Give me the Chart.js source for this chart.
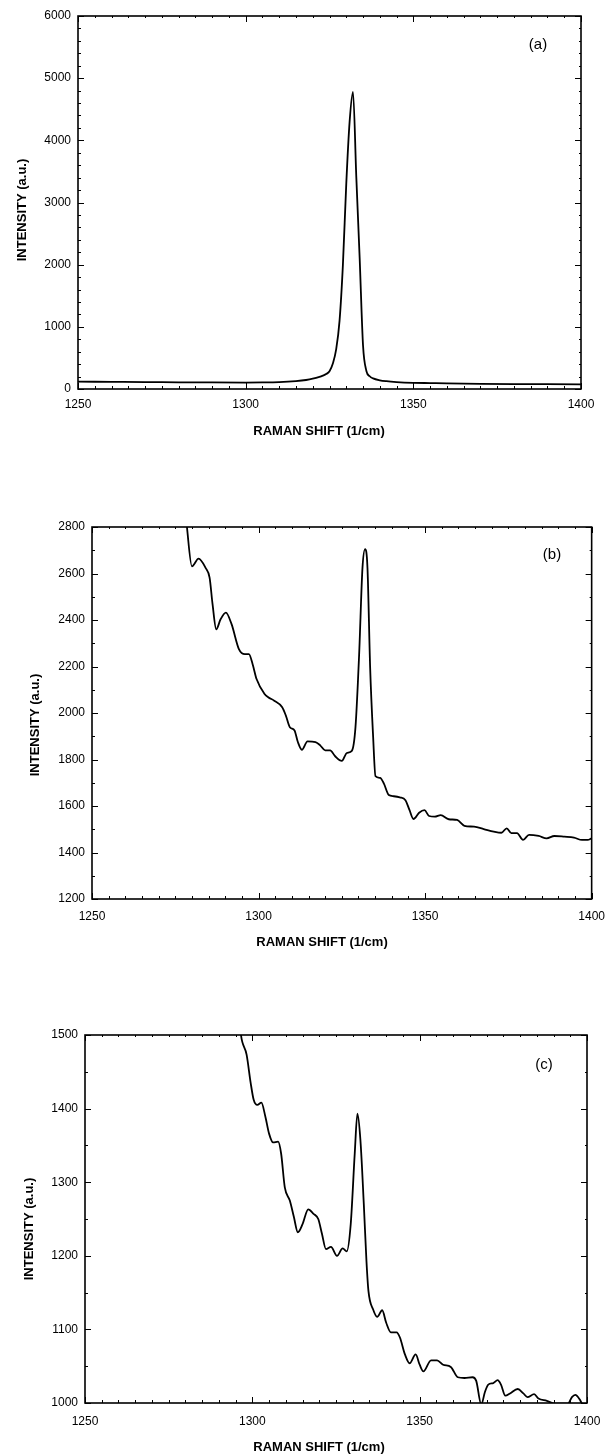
<!DOCTYPE html>
<html><head><meta charset="utf-8">
<script src="https://cdn.jsdelivr.net/npm/chart.js@4"></script>
<style>
html,body{margin:0;padding:0;background:#fff;}
body{width:615px;height:1455px;position:relative;overflow:hidden;}
canvas{position:absolute;left:0;}
</style></head><body>
<canvas id="ca" width="615" height="470" style="top:0px"></canvas>
<canvas id="cb" width="615" height="490" style="top:480px"></canvas>
<canvas id="cc" width="615" height="480" style="top:975px"></canvas>
<script>
// ---- data ----
const xTitle = 'RAMAN SHIFT (1/cm)';
const yTitle = 'INTENSITY (a.u.)';
const panelLabels = ['(a)', '(b)', '(c)'];
const xTicks = [1250, 1300, 1350, 1400];

const yTicksA = [0, 1000, 2000, 3000, 4000, 5000, 6000];
const shiftA = [1250,1260,1270,1280,1290,1300,1305,1310,1315,1318,1320,1322,1323,1324,1325,1326,1327,1328,1329,1330,1331,1332,1333,1334,1335,1336,1337,1338,1340,1342,1345,1350,1355,1360,1370,1380,1390,1400];
const intensityA = [118,115,112,108,105,104,106,112,128,145,165,195,215,240,285,410,640,1100,2000,3300,4300,4780,3400,2100,700,290,205,170,140,125,112,100,95,90,84,80,78,75];

const yTicksB = [1200, 1400, 1600, 1800, 2000, 2200, 2400, 2600, 2800];
const shiftB = [1277.5,1278.5,1280.0,1282.0,1284.1,1285.3,1286.2,1287.3,1288.6,1290.2,1291.9,1294.1,1295.9,1297.1,1298.2,1299.4,1301.8,1302.9,1304.7,1307.1,1308.2,1309.4,1310.8,1311.8,1313.0,1314.7,1317.1,1318.5,1320.0,1321.5,1323.0,1325.0,1326.5,1328.0,1329.1,1330.2,1331.2,1332.0,1332.7,1333.5,1334.4,1335.1,1336.5,1337.6,1339.1,1340.6,1342.4,1344.1,1345.3,1346.5,1348.2,1349.8,1351.2,1352.9,1354.7,1357.1,1359.6,1361.8,1364.7,1367.6,1370.6,1372.9,1374.5,1375.9,1377.6,1379.4,1381.2,1384.1,1386.5,1388.8,1391.8,1394.7,1397.1,1398.8,1400];
const intensityB = [2950,2800,2631,2664,2624,2582,2467,2360,2403,2432,2382,2275,2253,2253,2211,2146,2082,2068,2053,2025,1989,1939,1925,1875,1842,1878,1875,1861,1839,1839,1814,1794,1828,1837,1939,2253,2624,2705,2624,2196,1897,1728,1721,1697,1647,1642,1637,1625,1583,1544,1571,1582,1557,1554,1561,1543,1540,1515,1511,1501,1490,1485,1504,1483,1483,1454,1476,1471,1461,1471,1468,1464,1454,1454,1461];

const yTicksC = [1000, 1100, 1200, 1300, 1400, 1500];
const shiftC = [1296.0,1296.6,1298.3,1299.5,1300.4,1301.5,1302.7,1303.9,1305.0,1306.2,1307.7,1308.6,1309.7,1311.2,1312.4,1313.6,1315.0,1316.7,1318.3,1319.7,1320.8,1322.0,1323.5,1325.3,1327.0,1328.2,1329.4,1330.6,1331.4,1332.3,1333.3,1334.1,1334.7,1336.1,1337.3,1338.8,1340.0,1341.4,1343.1,1344.1,1345.6,1347.0,1348.8,1350.0,1351.1,1353.4,1355.2,1357.0,1359.3,1361.4,1363.4,1365.8,1366.9,1368.4,1369.5,1370.5,1372.0,1373.3,1374.3,1375.6,1377.0,1379.3,1381.0,1382.2,1384.2,1385.5,1388.0,1390.5,1394.3,1395.5,1396.5,1397.8,1398.6,1400.0];
const intensityC = [1530,1500,1473,1435,1412,1405,1408,1389,1366,1354,1355,1339,1293,1275,1253,1232,1243,1263,1257,1250,1230,1209,1212,1200,1210,1206,1243,1339,1393,1357,1271,1193,1152,1127,1117,1126,1109,1096,1096,1089,1066,1054,1066,1052,1043,1058,1058,1052,1049,1035,1034,1035,1030,998,1015,1025,1027,1031,1025,1010,1013,1019,1013,1008,1012,1006,1003,999,999,1008,1011,1005,998,990];

// ---- drawing ----
const FONT = '"Liberation Sans", Arial, Helvetica, sans-serif';

const framePlugin = {
  id: 'frame',
  afterDatasetsDraw(chart, args, o) {
    const {ctx, chartArea: a} = chart;
    const x = chart.scales.x, y = chart.scales.y;
    ctx.save();
    ctx.strokeStyle = '#000';
    ctx.lineWidth = 1.6;
    ctx.strokeRect(a.left, a.top, a.right - a.left, a.bottom - a.top);
    ctx.lineWidth = 1;
    ctx.beginPath();
    for (let v = x.min; v <= x.max + 1e-6; v += o.xMinor) {
      const px = Math.round(x.getPixelForValue(v)) + 0.5;
      const major = xTicks.includes(Math.round(v));
      const lb = major ? 6 : 3;
      ctx.moveTo(px, a.bottom); ctx.lineTo(px, a.bottom - lb);
      ctx.moveTo(px, a.top); ctx.lineTo(px, a.top + (major ? 6 : 2));
    }
    for (let v = y.min; v <= y.max + 1e-6; v += o.yMinor) {
      const py = Math.round(y.getPixelForValue(v)) + 0.5;
      const major = o.yTicks.includes(Math.round(v));
      ctx.moveTo(a.left, py); ctx.lineTo(a.left + (major ? 6 : 3), py);
      ctx.moveTo(a.right, py); ctx.lineTo(a.right - (major ? 6 : 2), py);
    }
    ctx.stroke();
    ctx.restore();
  }
};

const textPlugin = {
  id: 'panelText',
  afterDraw(chart, args, o) {
    const ctx = chart.ctx;
    ctx.save();
    ctx.fillStyle = '#000';
    ctx.textAlign = 'center';
    ctx.textBaseline = 'middle';
    ctx.font = '15px ' + FONT;
    ctx.fillText(o.label, o.lx, o.ly);
    ctx.font = 'bold 13px ' + FONT;
    ctx.fillText(xTitle, o.xtx, o.xty);
    ctx.translate(o.ytx, o.yty);
    ctx.rotate(-Math.PI / 2);
    ctx.fillText(yTitle, 0, 0);
    ctx.restore();
  }
};

function makePanel(id, xs, ys, yTicks, g) {
  const pts = xs.map((v, i) => ({x: v, y: ys[i]}));
  new Chart(document.getElementById(id), {
    type: 'line',
    data: { datasets: [{ data: pts, borderColor: '#000', borderWidth: 1.8, pointRadius: 0,
      fill: false, cubicInterpolationMode: 'monotone' }] },
    plugins: [framePlugin, textPlugin],
    options: {
      responsive: false, animation: false, devicePixelRatio: 1,
      layout: { padding: { top: g.top, right: g.right, left: 0, bottom: 0 } },
      plugins: {
        legend: { display: false }, tooltip: { enabled: false },
        frame: { xMinor: 5, yMinor: g.yMinor, yTicks: yTicks },
        panelText: g.text
      },
      scales: {
        x: {
          type: 'linear', min: xTicks[0], max: xTicks[xTicks.length - 1],
          afterBuildTicks: s => { s.ticks = xTicks.map(v => ({value: v})); },
          afterFit: s => { s.height = g.xh; },
          grid: { display: false, drawTicks: false }, border: { display: false },
          ticks: { color: '#000', font: { family: FONT, size: 12 }, padding: g.xpad,
            maxRotation: 0, autoSkip: false, callback: v => String(v) }
        },
        y: {
          type: 'linear', min: yTicks[0], max: yTicks[yTicks.length - 1],
          afterBuildTicks: s => { s.ticks = yTicks.map(v => ({value: v})); },
          afterFit: s => { s.width = g.yw; },
          grid: { display: false, drawTicks: false }, border: { display: false },
          ticks: { color: '#000', font: { family: FONT, size: 12 }, padding: 7,
            autoSkip: false, callback: v => String(v) }
        }
      }
    }
  });
}

makePanel('ca', shiftA, intensityA, yTicksA, {
  top: 16, right: 34, yw: 78, xh: 81, xpad: 8, yMinor: 200,
  text: { label: panelLabels[0], lx: 538, ly: 45, xtx: 319, xty: 431, ytx: 22, yty: 210 }
});
makePanel('cb', shiftB, intensityB, yTicksB, {
  top: 47, right: 19, yw: 92, xh: 71, xpad: 10, yMinor: 100,
  text: { label: panelLabels[1], lx: 552, ly: 75, xtx: 322, xty: 462, ytx: 35, yty: 245 }
});
makePanel('cc', shiftC, intensityC, yTicksC, {
  top: 60, right: 28, yw: 85, xh: 52, xpad: 11, yMinor: 50,
  text: { label: panelLabels[2], lx: 544, ly: 90, xtx: 319, xty: 472, ytx: 29, yty: 254 }
});
</script>
</body></html>
